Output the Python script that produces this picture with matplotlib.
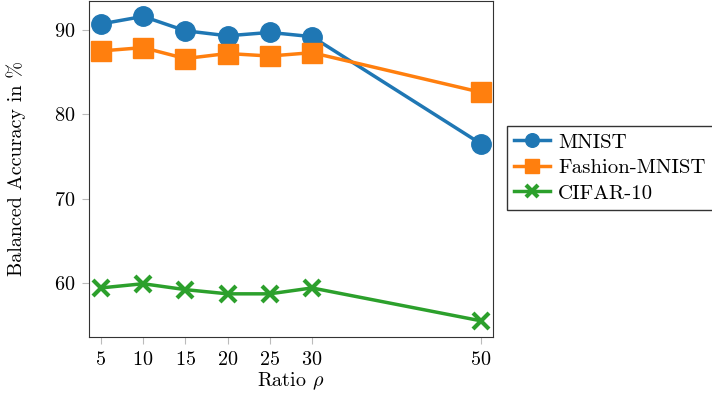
import matplotlib.pyplot as plt

plt.rcParams['font.family'] = 'cmr10'
plt.rcParams['mathtext.fontset'] = 'cm'
plt.rcParams['axes.formatter.use_mathtext'] = True

# Data
ratios = [5, 10, 15, 20, 25, 30, 50]
mnist = [90.7, 91.6, 89.9, 89.3, 89.7, 89.2, 76.5]
fashion = [87.5, 87.9, 86.6, 87.2, 86.9, 87.3, 82.6]
cifar = [59.4, 59.9, 59.2, 58.7, 58.7, 59.4, 55.5]

fig = plt.figure(figsize=(7.12, 4.01), dpi=100)
ax = fig.add_axes([0.125, 0.16, 0.567, 0.838])

ax.plot(ratios, mnist, color='#1f77b4', lw=2.5, marker='o', ms=14, label='MNIST')
ax.plot(ratios, fashion, color='#ff7f0e', lw=2.5, marker='s', ms=14, label='Fashion-MNIST')
ax.plot(ratios, cifar, color='#2ca02c', lw=2.5, marker='x', ms=12, mew=3, label='CIFAR-10')

ax.set_xlim(3.6, 51.4)
ax.set_ylim(53.6, 93.45)
ax.set_xticks(ratios)
ax.set_yticks([60, 70, 80, 90])
ax.tick_params(labelsize=14.5, color='#bbbbbb', length=5, pad=5)
for s in ax.spines.values():
    s.set_color('#333333')

ax.set_xlabel(r'Ratio $\rho$', fontsize=14.5, labelpad=1)
ax.set_ylabel(r'Balanced Accuracy in %', fontsize=14.5, labelpad=20)

leg = ax.legend(loc='upper left', bbox_to_anchor=(0.712, 0.686), bbox_transform=fig.transFigure,
                fontsize=15, fancybox=False, edgecolor='#333333', framealpha=1,
                handlelength=1.7, borderaxespad=0, handletextpad=0.4,
                markerscale=0.7, labelspacing=0.33, borderpad=0.35)
leg.get_frame().set_linewidth(1.0)

plt.savefig('out.png', dpi=100)
